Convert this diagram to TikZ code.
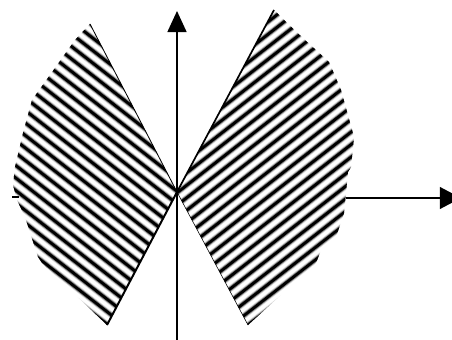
\documentclass[tikz,border=0pt]{standalone}
\usetikzlibrary{arrows.meta}
\tikzset{
  halo/.style={line width=4.4pt, black!15},
  blur/.style={line width=3.2pt, black!50},
  core/.style={line width=2pt, black},
}
\begin{document}
\begin{tikzpicture}[x=0.025cm, y=-0.025cm]
\useasboundingbox (0,0) rectangle (452,340);
\coordinate (O)  at (177,192);
\coordinate (UL) at (90,24);
\coordinate (LL) at (107,325);
\coordinate (UR) at (274,10);
\coordinate (LR) at (248,325);
\begin{scope}
\clip (O) -- (UL) -- (75,40) -- (55,68) -- (32,100) -- (23,133) -- (15,167)
  -- (13,185) -- (17,200) -- (25,217) -- (38,257) -- (42,263) -- (LL) -- cycle;
\foreach \k in {-12,...,28} {
  \pgfmathsetmacro\c{3.2+12.5*\k}
  \draw[halo] (0,\c) -- ++(200,156);
  \draw[blur] (0,\c) -- ++(200,156);
  \draw[core] (0,\c) -- ++(200,156);
}
\end{scope}
\begin{scope}
\clip (O) -- (UR) -- (286,22) -- (305,40) -- (329,62) -- (341,90) -- (354,137)
  -- (351,167) -- (348,172) -- (344,213) -- (336,237) -- (321,250) -- (316,263)
  -- (LR) -- cycle;
\foreach \k in {9,...,51} {
  \pgfmathsetmacro\c{5.9+12.5*\k-132.6}
  \draw[halo] (170,\c) -- ++(200,-156);
  \draw[blur] (170,\c) -- ++(200,-156);
  \draw[core] (170,\c) -- ++(200,-156);
}
\end{scope}
\draw [line width=0.6pt] (UL) -- (O);
\draw [line width=1.4pt] (LL) -- (O);
\draw [line width=1.2pt] (UR) -- (O);
\draw [line width=0.4pt] (LR) -- (O);
\draw [line width=1.3pt, -{Triangle[width=13.5pt,length=15pt]}] (177,340) -- (177,11);
\draw [line width=1.1pt, -{Triangle[width=15.5pt,length=15pt]}] (346,198) -- (461,198);
\draw [line width=1.1pt] (12,197) -- (19,197);
\end{tikzpicture}
\end{document}
